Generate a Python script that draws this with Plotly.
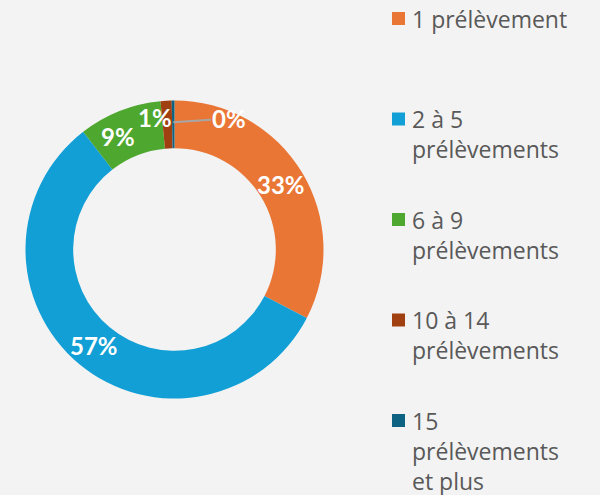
import math
import plotly.graph_objects as go

# ---- data ----
categories = [
    "1 prélèvement",
    "2 à 5 prélèvements",
    "6 à 9 prélèvements",
    "10 à 14 prélèvements",
    "15 prélèvements et plus",
]
legend_text = [
    "1 prélèvement",
    "2 à 5<br>prélèvements",
    "6 à 9<br>prélèvements",
    "10 à 14<br>prélèvements",
    "15<br>prélèvements<br>et plus",
]
shares = [32.6, 56.9, 9.0, 1.2, 0.3]
colors = ["#EA7636", "#119FD6", "#4EA72E", "#A04010", "#0E6282"]

# ---- geometry (pixels) ----
W, H = 600, 495
CX, CY, R = 174.5, 249.5, 149.0
HOLE = 0.68

fig = go.Figure(go.Pie(
    labels=categories,
    values=shares,
    sort=False,
    direction="clockwise",
    rotation=0,
    hole=HOLE,
    marker=dict(colors=colors, line=dict(width=0)),
    textinfo="none",
    domain=dict(x=[(CX - R) / W, (CX + R) / W], y=[1 - (CY + R) / H, 1 - (CY - R) / H]),
    hoverinfo="label+percent",
    showlegend=False,
))

total = sum(shares)
cum = [sum(shares[:i]) for i in range(len(shares))]


def to_px(angle_deg, radius):
    a = math.radians(angle_deg)
    return CX + radius * math.sin(a), CY - radius * math.cos(a)


def px2paper(px, py):
    return px / W, 1 - py / H


label_font = dict(family="Lato", size=24, color="white", weight="bold")
rmid = R * (1 + HOLE) / 2

# percentage labels for the three large slices, at the slice mid-angle
label_nudge = [(0, 0), (0, 0), (-10, 3)]
for i in range(3):
    mid = (cum[i] + shares[i] / 2) / total * 360
    px, py = to_px(mid, rmid)
    x, y = px2paper(px + label_nudge[i][0], py + label_nudge[i][1])
    fig.add_annotation(
        x=x, y=y, xref="paper", yref="paper", xanchor="center", yanchor="middle",
        text="%d%%" % round(shares[i] / total * 100), showarrow=False, font=label_font,
    )

# "1%" label: right aligned at the end of its slice
end4 = (cum[3] + shares[3]) / total * 360
px4, py4 = to_px(end4, rmid + 7)
x4, y4 = px2paper(px4 + 2, py4)
fig.add_annotation(
    x=x4, y=y4, xref="paper", yref="paper", xanchor="right", yanchor="middle",
    text="%d%%" % round(shares[3] / total * 100), showarrow=False, font=label_font,
)
# "0%" label with leader line
mid5 = (cum[4] + shares[4] / 2) / total * 360
x5, y5 = px2paper(*to_px(mid5, rmid + 2))
fig.add_annotation(
    x=x5, y=y5, xref="paper", yref="paper",
    ax=56, ay=-4,
    text="%d%%" % round(shares[4] / total * 100), showarrow=True,
    arrowhead=0, arrowcolor="#A6A6A6", arrowwidth=2,
    font=label_font,
)

# ---- legend (drawn as text + colour squares) ----
LEG_SQ_X0, LEG_SQ_SIZE, LEG_TEXT_X = 392, 13, 410
FIRST_BASELINE, ITEM_PITCH = 27, 100.5
leg_font = dict(family="Open Sans", size=23, color="#595959")
for i, txt in enumerate(legend_text):
    base = FIRST_BASELINE + i * ITEM_PITCH
    fig.add_shape(
        type="rect", xref="paper", yref="paper",
        x0=LEG_SQ_X0 / W, x1=(LEG_SQ_X0 + LEG_SQ_SIZE) / W,
        y0=1 - (base - 2) / H, y1=1 - (base - 2 - LEG_SQ_SIZE) / H,
        fillcolor=colors[i], line=dict(width=0),
    )
    fig.add_annotation(
        x=LEG_TEXT_X / W, y=1 - (base - 26.5) / H, xref="paper", yref="paper",
        xanchor="left", yanchor="top", align="left", text=txt, showarrow=False,
        font=leg_font,
    )

fig.update_layout(
    width=W, height=H,
    margin=dict(l=0, r=0, t=0, b=0),
    paper_bgcolor="#F3F3F3",
    plot_bgcolor="#F3F3F3",
    showlegend=False,
)

fig.write_html(
    "out.html",
    config={"displayModeBar": False},
    post_script="document.body.style.margin='0';",
)
